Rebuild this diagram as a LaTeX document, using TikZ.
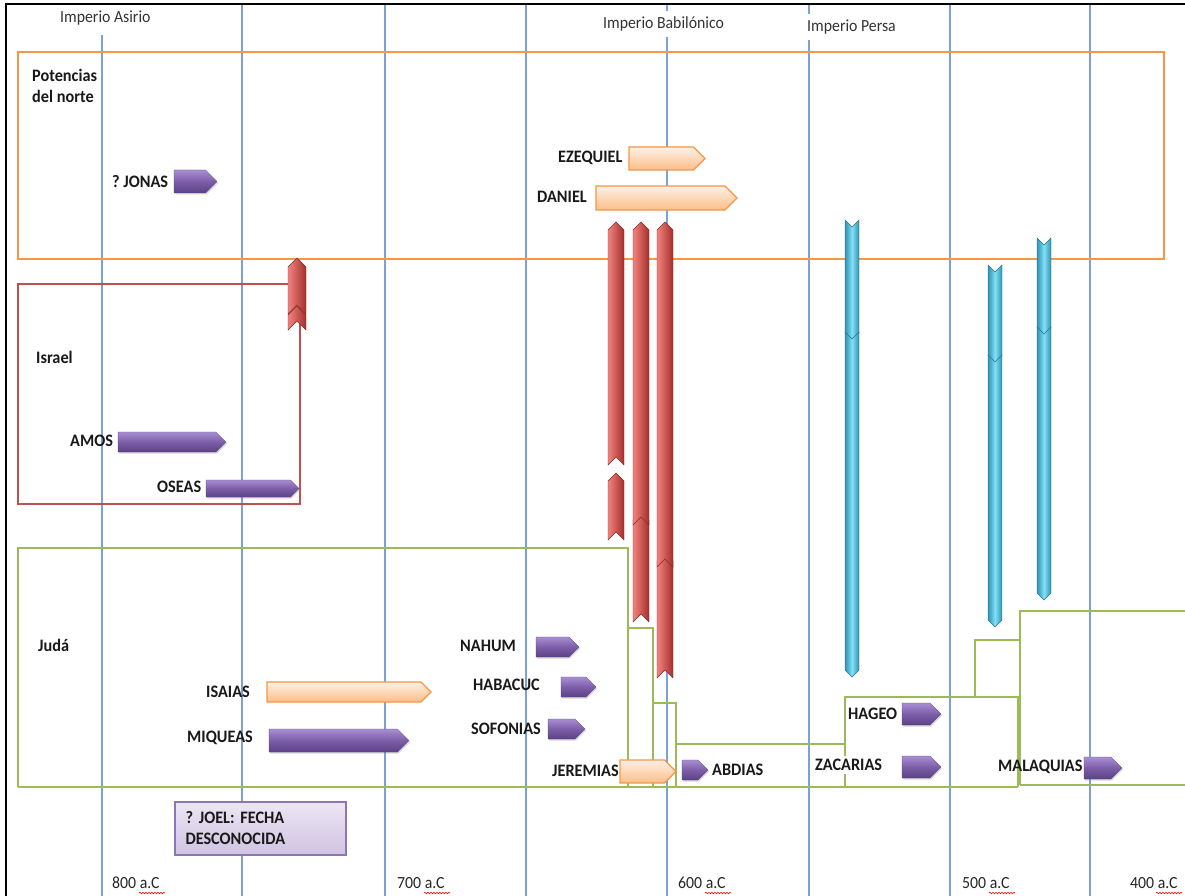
\documentclass[tikz,border=0pt]{standalone}
\usepackage{fontspec}
\setmainfont{Carlito}[FakeStretch=0.93]
\usetikzlibrary{shadows,decorations.pathmorphing}
\definecolor{gridblue}{HTML}{7AA2D6}
\definecolor{orangeb}{HTML}{F79646}
\definecolor{redb}{HTML}{C0504D}
\definecolor{jgreen}{HTML}{9BBB59}
\definecolor{purlight}{HTML}{A88ED2}
\definecolor{purmid}{HTML}{7C5EA8}
\definecolor{purdark}{HTML}{5B4285}
\definecolor{orlight}{HTML}{FEF1E6}
\definecolor{ordark}{HTML}{FBBE88}
\definecolor{redlight}{HTML}{F3817D}
\definecolor{reddark}{HTML}{A3302D}
\definecolor{cyanlight}{HTML}{7FE0F7}
\definecolor{cyandark}{HTML}{3192B2}
\definecolor{joeltop}{HTML}{ECE6F3}
\definecolor{joelbot}{HTML}{D0C3E2}
\definecolor{joeledge}{HTML}{8E76B5}
\frenchspacing

\newcommand\PArrow[5]{% style, x1, x2, ytop, ybottom
  \pgfmathsetmacro\arrA{#3-(#5-#4)*0.5}%
  \pgfmathsetmacro\arrM{(#4+#5)*0.5}%
  \path[#1] (#2,#4) -- (\arrA,#4) -- (#3,\arrM) -- (\arrA,#5) -- (#2,#5) -- cycle;}
\newcommand\UpChev[4]{% xc, w, ytip, ybottom
  \pgfmathsetmacro\chL{#1-#2/2}\pgfmathsetmacro\chR{#1+#2/2}%
  \pgfmathsetmacro\chH{#3+#2*0.5}\pgfmathsetmacro\chB{#4-#2*0.5}%
  \path[redchev] (\chL,#4) -- (\chL,\chH) -- (#1,#3) -- (\chR,\chH) -- (\chR,#4) -- (#1,\chB) -- cycle;}
\newcommand\DnChev[4]{% xc, w, ytop, ytip
  \pgfmathsetmacro\chL{#1-#2/2}\pgfmathsetmacro\chR{#1+#2/2}%
  \pgfmathsetmacro\chT{#3+#2*0.5}\pgfmathsetmacro\chB{#4-#2*0.5}%
  \path[cyanchev] (\chL,#3) -- (#1,\chT) -- (\chR,#3) -- (\chR,\chB) -- (#1,#4) -- (\chL,\chB) -- cycle;}

\begin{document}
\begin{tikzpicture}[x=1pt,y=-1pt,
  lbl/.style={font=\fontsize{17.5}{21}\selectfont\bfseries, inner sep=0pt, anchor=west, text=black!90},
  hdr/.style={font=\fontsize{17}{20}\selectfont, inner xsep=2pt, inner ysep=6pt, anchor=west, fill=white, text=black!80},
  yr/.style={font=\fontsize{17}{20}\selectfont, inner sep=0pt, anchor=west, text=black!85},
  gridline/.style={draw=gridblue, line width=1.1pt},
  greenl/.style={draw=jgreen, line width=2.3pt},
  purparrow/.style={top color=purlight, bottom color=purdark, middle color=purmid, draw=purdark, line width=0.3pt,
    drop shadow={opacity=0.3, shadow xshift=1.2pt, shadow yshift=-1.5pt}},
  orarrow/.style={top color=orlight, bottom color=ordark, draw=orangeb, line width=1.2pt},
  redchev/.style={left color=redlight, right color=reddark, draw=reddark!85!black, line width=0.4pt},
  cyanchev/.style={left color=cyandark, right color=cyandark, middle color=cyanlight, draw=cyandark!80!black, line width=0.4pt},
  wavy/.style={draw=red, line width=0.6pt, decorate, decoration={snake, amplitude=0.8pt, segment length=3pt}},
  joelbox/.style={draw=joeledge, line width=1.2pt, top color=joeltop, bottom color=joelbot,
    font=\fontsize{17.5}{21}\selectfont\bfseries, align=left, text width=150pt, inner xsep=10pt,
    minimum width=171pt, minimum height=53pt, text=black!90}
]
\useasboundingbox (0,0) rectangle (1185,896);
\fill[white] (0,0) rectangle (1185,896);

% grid lines
\draw[gridline] (102,35) -- (102,896);
\foreach \gx in {242,385,526,667,809,950,1090} \draw[gridline] (\gx,4) -- (\gx,896);

% black frame
\draw[line width=2.5pt] (6,896) -- (6,4) -- (1185,4);

% headers
\node[hdr] (asirio) at (58,18) {Imperio Asirio};
\node[hdr] (babil) at (601,24) {Imperio Babilónico};
\node[hdr] (persa) at (805,27) {Imperio Persa};

% region boxes
\draw[draw=orangeb, line width=2.3pt] (18,52) rectangle (1164,259);
\draw[draw=redb, line width=2pt] (18,284) rectangle (300,504);
\draw[greenl] (18,787) -- (18,548) -- (628,548) -- (628,787);
\draw[greenl] (18,787) -- (1018,787);
\draw[greenl] (628,628) -- (653,628) -- (653,787);
\draw[greenl] (653,703) -- (676,703) -- (676,787);
\draw[greenl] (676,744) -- (845,744) -- (845,787);
\draw[greenl] (845,744) -- (845,697) -- (1018,697) -- (1018,787);
\draw[greenl] (975,697) -- (975,640) -- (1020,640);
\draw[greenl] (1020,785) -- (1020,611) -- (1185,611);
\draw[greenl] (1020,785) -- (1185,785);

% region labels
\node[lbl, align=left, font=\fontsize{17.5}{21}\selectfont\bfseries] (potencias) at (32,86) {Potencias\\del norte};
\node[lbl] (israel) at (36,357) {Israel};
\node[lbl] (juda) at (38,645) {Judá};

% red chevrons (exile / deportations)
\UpChev{297}{18}{306}{330}
\UpChev{297}{18}{258}{314}
\UpChev{616}{16}{222}{465}
\UpChev{616}{16}{473}{540}
\UpChev{641}{16}{512}{622}
\UpChev{641}{16}{222}{525}
\UpChev{665}{16}{553}{678}
\UpChev{665}{16}{222}{567}

% cyan chevrons (returns)
\DnChev{852}{14}{220}{340}
\DnChev{852}{14}{332}{677}
\DnChev{995}{14}{265}{363}
\DnChev{995}{14}{355}{627}
\DnChev{1044}{14}{238}{335}
\DnChev{1044}{14}{327}{600}

% prophets: arrows
\PArrow{purparrow}{174}{217}{170}{193}
\PArrow{orarrow}{629}{705}{147}{170}
\PArrow{orarrow}{596}{737}{186}{210}
\PArrow{purparrow}{118}{226}{432}{452}
\PArrow{purparrow}{206}{299}{480}{497}
\PArrow{purparrow}{536}{579}{637}{657}
\PArrow{purparrow}{561}{596}{677}{697}
\PArrow{purparrow}{548}{585}{719}{739}
\PArrow{orarrow}{267}{431}{682}{702}
\PArrow{purparrow}{269}{409}{729}{752}
\PArrow{orarrow}{620}{676}{760}{783}
\PArrow{purparrow}{682}{708}{760}{780}
\PArrow{purparrow}{902}{941}{703}{725}
\PArrow{purparrow}{902}{941}{756}{778}
\PArrow{purparrow}{1084}{1122}{757}{779}

% prophets: labels
\node[lbl] (jonas) at (112,182) {?\ JONAS};
\node[lbl] (ezequiel) at (558,158) {EZEQUIEL};
\node[lbl] (daniel) at (537,197) {DANIEL};
\node[lbl] (amos) at (70,441) {AMOS};
\node[lbl] (oseas) at (157,487) {OSEAS};
\node[lbl] (nahum) at (460,646) {NAHUM};
\node[lbl] (habacuc) at (473,685) {HABACUC};
\node[lbl] (sofonias) at (471,729) {SOFONIAS};
\node[lbl] (isaias) at (206,692) {ISAIAS};
\node[lbl] (miqueas) at (187,738) {MIQUEAS};
\node[lbl] (jeremias) at (552,771) {JEREMIAS};
\node[lbl] (abdias) at (712,770) {ABDIAS};
\node[lbl] (hageo) at (848,714) {HAGEO};
\node[lbl, fill=white, inner sep=3pt] (zacarias) at (812,765) {ZACARIAS};
\node[lbl] (malaquias) at (998,767) {MALAQUIAS};

% Joel box
\node[joelbox] (joel) at (260.5,828.5) {\mbox{?\ JOEL:\ FECHA}\\\mbox{DESCONOCIDA}};

% year labels
\node[yr] (y800) at (112,883) {800 a.C};
\node[yr] (y700) at (397,883) {700 a.C};
\node[yr] (y600) at (678,883) {600 a.C};
\node[yr] (y500) at (962,883) {500 a.C};
\node[yr] (y400) at (1130,883) {400 a.C};
\foreach \wx in {139,424,705,989,1156} \draw[wavy] (\wx,893) -- ++(26,0);
\end{tikzpicture}
\end{document}
